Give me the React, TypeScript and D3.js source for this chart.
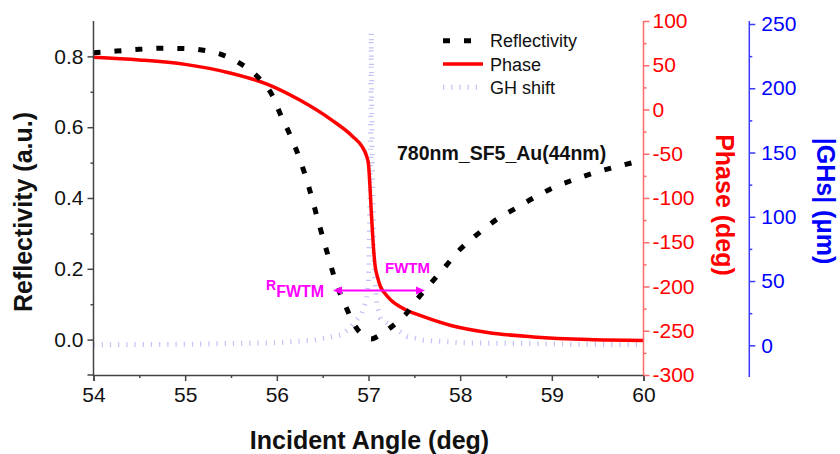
import React, { useEffect, useRef } from "react";
import * as d3 from "d3";

// reflectivity (black dotted)
const reflAngle = [54, 54.25, 54.5, 54.75, 55, 55.25, 55.4, 55.6, 55.8, 55.95, 56.05, 56.15, 56.25, 56.35, 56.45, 56.55, 56.65, 56.75, 56.85, 56.95, 57.03, 57.12, 57.22, 57.4, 57.55, 57.7, 57.85, 58.0, 58.2, 58.4, 58.6, 58.8, 59.0, 59.2, 59.45, 59.7, 60];
const reflValue = [0.81, 0.815, 0.82, 0.823, 0.822, 0.815, 0.805, 0.78, 0.74, 0.69, 0.63, 0.575, 0.51, 0.43, 0.336, 0.245, 0.158, 0.095, 0.04, 0.01, 0.002, 0.012, 0.03, 0.07, 0.12, 0.165, 0.21, 0.255, 0.3, 0.34, 0.37, 0.4, 0.427, 0.448, 0.47, 0.488, 0.507];

// phase (red solid)
const phaseAngle = [54, 54.5, 55, 55.5, 55.9, 56.25, 56.6, 56.83, 56.93, 56.98, 57.0, 57.015, 57.03, 57.05, 57.07, 57.1, 57.13, 57.18, 57.24, 57.4, 57.6, 57.9, 58.3, 58.8, 59.4, 60];
const phaseValue = [59, 56, 51, 41, 28.5, 10.7, -12, -30.7, -42, -53, -62, -85, -115, -150, -175, -190, -200, -208, -215, -226, -234, -244, -252, -257, -260, -261];

// GH shift (light blue dotted)
const ghAngle = [54, 55, 56, 56.4, 56.7, 56.8, 56.93, 56.98, 57.0, 57.02, 57.03, 57.04, 57.06, 57.09, 57.13, 57.27, 57.42, 57.6, 58, 59, 60];
const ghValue = [0.3, 0.8, 2, 4, 8, 13.5, 25, 36, 50, 130, 243, 150, 60, 32, 21, 14, 7, 4, 2, 1, 0.5];

const xTicks = [54, 55, 56, 57, 58, 59, 60];
const reflTicks = [0, 0.2, 0.4, 0.6, 0.8];
const phaseTicks = [-300, -250, -200, -150, -100, -50, 0, 50, 100];
const ghTicks = [0, 50, 100, 150, 200, 250];

const legendItems = ["Reflectivity", "Phase", "GH shift"];

const FONT = "'Liberation Sans', Arial, sans-serif";

const App = () => {
  const ref = useRef<SVGSVGElement>(null);

  useEffect(() => {
    const svg = d3.select(ref.current);
    svg.selectAll("*").remove();

    const left = 93.5, right = 643.5, top = 21, bottom = 375;

    const x = d3.scaleLinear().domain([54, 60]).range([left, right]);
    const yR = d3.scaleLinear().domain([-0.1, 0.9]).range([bottom, top]);
    const yP = d3.scaleLinear().domain([-300, 100]).range([bottom, top]);
    const yG = d3.scaleLinear().domain([0, 250]).range([345.3, 24]);

    const styleAxis = (g, color, textColor) => {
      g.select(".domain").attr("stroke", color).attr("stroke-width", 1.5);
      g.selectAll(".tick line").attr("stroke", color).attr("stroke-width", 1.5);
      g.selectAll("text")
        .attr("fill", textColor)
        .style("font-family", FONT)
        .style("font-size", "21px");
    };
    const minor = (g, color) => {
      g.select(".domain").remove();
      g.selectAll(".tick line").attr("stroke", color).attr("stroke-width", 1.5);
    };

    // GH shift line (drawn first, behind)
    const ghLine = d3.line<number>()
      .x((d, i) => x(ghAngle[i]))
      .y((d) => yG(d));
    svg.append("path")
      .datum(ghValue)
      .attr("fill", "none")
      .attr("stroke", "#c2c2f6")
      .attr("stroke-width", 5)
      .attr("stroke-dasharray", "1.2 7")
      .attr("d", ghLine);

    const phaseLine = d3.line<number>()
      .x((d, i) => x(phaseAngle[i]))
      .y((d) => yP(d))
      .curve(d3.curveMonotoneX);
    svg.append("path")
      .datum(phaseValue)
      .attr("fill", "none")
      .attr("stroke", "#ff0000")
      .attr("stroke-width", 3.5)
      .attr("d", phaseLine);

    const reflLine = d3.line<number>()
      .x((d, i) => x(reflAngle[i]))
      .y((d) => yR(d))
      .curve(d3.curveMonotoneX);
    svg.append("path")
      .datum(reflValue)
      .attr("fill", "none")
      .attr("stroke", "#000")
      .attr("stroke-width", 5)
      .attr("stroke-dasharray", "7 14")
      .attr("d", reflLine);

    // bottom axis
    const gx = svg.append("g").attr("transform", `translate(0,${bottom})`)
      .call(d3.axisBottom(x).tickValues(xTicks).tickSize(6).tickPadding(6).tickFormat(d3.format("d")));
    styleAxis(gx, "#444", "#111");
    svg.append("g").attr("transform", `translate(0,${bottom})`)
      .call(d3.axisBottom(x).tickValues(xTicks.slice(0, -1).map((v) => v + 0.5)).tickSize(3).tickFormat(() => ""))
      .call((g) => minor(g, "#444"));

    // left axis
    const gy = svg.append("g").attr("transform", `translate(${left},0)`)
      .call(d3.axisLeft(yR).tickValues(reflTicks).tickSize(6).tickPadding(4).tickFormat(d3.format(".1f")));
    gy.select(".domain").attr("d", `M-6,${bottom}H0V${top}`);
    styleAxis(gy, "#444", "#111");
    svg.append("g").attr("transform", `translate(${left},0)`)
      .call(d3.axisLeft(yR).tickValues([0.1, 0.3, 0.5, 0.7]).tickSize(3).tickFormat(() => ""))
      .call((g) => minor(g, "#444"));

    // phase axis
    const gp = svg.append("g").attr("transform", `translate(${right},0)`)
      .call(d3.axisRight(yP).tickValues(phaseTicks).tickSize(6).tickPadding(3).tickFormat(d3.format("d")));
    gp.select(".domain").attr("d", `M0,${bottom}V${top}`);
    styleAxis(gp, "#ff6a6a", "#ff0000");
    gp.selectAll("text").text((d: number) => (d < 0 ? "-" + Math.abs(d) : String(d)));
    svg.append("g").attr("transform", `translate(${right},0)`)
      .call(d3.axisRight(yP).tickValues(d3.range(-275, 100, 50)).tickSize(3).tickFormat(() => ""))
      .call((g) => minor(g, "#ff6a6a"));

    // GH axis
    const ghX = 749.3;
    const gg = svg.append("g").attr("transform", `translate(${ghX},0)`)
      .call(d3.axisRight(yG).tickValues(ghTicks).tickSize(6).tickPadding(6).tickFormat(d3.format("d")));
    gg.select(".domain").attr("d", `M0,377V21`);
    styleAxis(gg, "#3a3aff", "#0000ff");
    svg.append("g").attr("transform", `translate(${ghX},0)`)
      .call(d3.axisRight(yG).tickValues([25, 75, 125, 175, 225]).tickSize(3).tickFormat(() => ""))
      .call((g) => minor(g, "#3a3aff"));

    // axis titles
    const title = (tx, ty, rot, color, text) =>
      svg.append("text")
        .attr("transform", `translate(${tx},${ty}) rotate(${rot})`)
        .attr("text-anchor", "middle")
        .style("font-family", FONT).style("font-size", "25px").style("font-weight", "bold")
        .attr("fill", color)
        .text(text);
    title((left + right) / 2 + 1, 449, 0, "#111", "Incident Angle (deg)");
    title(32, 212, -90, "#111", "Reflectivity (a.u.)");
    title(716, 205, 90, "#ff0000", "Phase (deg)");
    title(817, 201, 90, "#0000ff", "|GHs| (μm)");

    // sample label
    svg.append("text")
      .attr("x", 397).attr("y", 160)
      .style("font-family", FONT).style("font-size", "19.5px").style("font-weight", "bold")
      .attr("fill", "#111")
      .text("780nm_SF5_Au(44nm)");

    // legend
    const legendColors = ["#000", "#ff0000", "#c2c2f6"];
    const legendWidth = [5, 3.5, 5];
    const legendDash = ["7 14", null, "1.2 7"];
    legendItems.forEach((name, i) => {
      const cy = 40.7 + i * 23.3;
      svg.append("line")
        .attr("x1", 443).attr("x2", 483).attr("y1", cy).attr("y2", cy)
        .attr("stroke", legendColors[i]).attr("stroke-width", legendWidth[i])
        .attr("stroke-dasharray", legendDash[i]);
      svg.append("text")
        .attr("x", 490).attr("y", cy + 6.5)
        .style("font-family", FONT).style("font-size", "18px")
        .attr("fill", "#111")
        .text(name);
    });

    // FWTM arrow
    const ay = 290.5;
    const ax1 = 333, ax2 = 425;
    svg.append("line")
      .attr("x1", ax1 + 6).attr("x2", ax2 - 6).attr("y1", ay).attr("y2", ay)
      .attr("stroke", "#ff00ff").attr("stroke-width", 2);
    svg.append("path")
      .attr("d", `M${ax1},${ay}L${ax1 + 9},${ay - 4}L${ax1 + 9},${ay + 4}Z M${ax2},${ay}L${ax2 - 9},${ay - 4}L${ax2 - 9},${ay + 4}Z`)
      .attr("fill", "#ff00ff");
    const rl = svg.append("text")
      .attr("x", 266).attr("y", 290)
      .style("font-family", FONT).style("font-weight", "bold")
      .attr("fill", "#ff00ff");
    rl.append("tspan").style("font-size", "14px").text("R");
    rl.append("tspan").attr("dy", 7).style("font-size", "16px").text("FWTM");
    svg.append("text")
      .attr("x", 385).attr("y", 273)
      .style("font-family", FONT).style("font-size", "15px").style("font-weight", "bold")
      .attr("fill", "#ff00ff")
      .text("FWTM");
  }, []);

  return (
    <svg
      ref={ref}
      width={840}
      height={454}
      style={{ position: "absolute", left: 0, top: 0, background: "#fff" }}
    />
  );
};

export default App;
